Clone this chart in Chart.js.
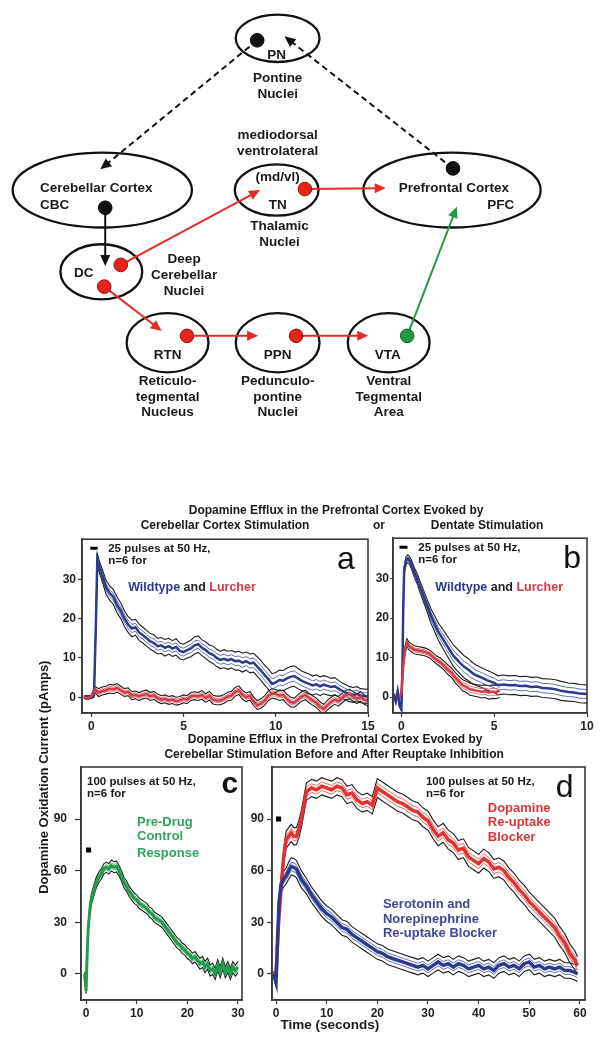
<!DOCTYPE html>
<html><head><meta charset="utf-8">
<script src="https://cdn.jsdelivr.net/npm/chart.js@4.4.1/dist/chart.umd.min.js"></script>
<style>
html,body{margin:0;padding:0;background:#fff;}
#wrap{position:relative;width:603px;height:1050px;overflow:hidden;background:#fff;}
canvas{position:absolute;}
</style></head><body>
<div id="wrap">
<canvas id="bg" width="603" height="1050" style="left:0;top:0;width:603px;height:1050px"></canvas>
<canvas id="pa" width="340" height="210" style="left:40px;top:530px;width:340px;height:210px"></canvas>
<canvas id="pb" width="233" height="210" style="left:370px;top:530px;width:233px;height:210px"></canvas>
<canvas id="pc" width="260" height="300" style="left:0px;top:740px;width:260px;height:300px"></canvas>
<canvas id="pd" width="353" height="300" style="left:250px;top:740px;width:353px;height:300px"></canvas>
</div>
<script>
// ---------------- DATA ----------------
// Panel a: Cerebellar cortex stimulation (time s, current pA)
const tA_wt = [-0.4,-0.2,0,0.15,0.25,0.33,0.45,0.6,0.8,1.0,1.2,1.4,1.6,1.8,2.0,2.2,2.4,2.6,2.8,3.0,3.2,3.4,3.6,3.8,4.0,4.2,4.4,4.6,4.8,5.0,5.2,5.4,5.6,5.8,6.0,6.2,6.4,6.6,6.8,7.0,7.2,7.4,7.6,7.8,8.0,8.2,8.4,8.6,8.8,9.0,9.2,9.4,9.6,9.8,10.0,10.2,10.4,10.6,10.8,11.0,11.2,11.4,11.6,11.8,12.0,12.2,12.4,12.6,12.8,13.0,13.2,13.4,13.6,13.8,14.0,14.2,14.4,14.6,14.8,15.0];
const vA_wt = [0,0.2,0,0.5,18,35,33,31,28,26.5,25.5,23.5,22,20,18.5,17.5,17.8,16.5,15.8,15,14.2,13.8,13,13.2,12.6,13,12.4,12.8,11.8,11.5,12,12.4,13.2,13.5,12.6,12,11.2,10.8,10,9.5,9.8,9.4,9.7,9.2,9.3,8.8,9.2,8.6,8.8,7.8,6.8,5.6,4.6,3.4,3.8,4.4,4.2,4.8,5.2,5.4,4.8,4.2,3.8,3.4,3,3.3,2.8,3.2,2.9,2.6,2.8,2.2,1.6,1.2,0.8,0.6,0.9,0.4,0.3,0.2];
const sA_wt = [0.3,0.3,0.3,0.5,1,1.5,1.5,1.6,1.8,1.8,1.9,2,2,2,2,2.1,2,2.1,2,2,2,2.1,2,2,2.1,2,2,2.1,2,2,2,2.1,2.2,2.1,2,2.1,2.1,2.2,2.2,2.2,2.3,2.3,2.2,2.3,2.4,2.4,2.3,2.4,2.4,2.5,2.5,2.5,2.6,2.6,2.5,2.5,2.6,2.6,2.6,2.6,2.6,2.5,2.5,2.5,2.4,2.4,2.4,2.3,2.3,2.2,2.2,2.1,2,2,1.9,1.9,1.8,1.8,1.8,1.8];
const tA_lc = [-0.4,-0.2,0,0.2,0.4,0.6,0.8,1.0,1.2,1.4,1.6,1.8,2.0,2.2,2.4,2.6,2.8,3.0,3.2,3.4,3.6,3.8,4.0,4.2,4.4,4.6,4.8,5.0,5.2,5.4,5.6,5.8,6.0,6.2,6.4,6.6,6.8,7.0,7.2,7.4,7.6,7.8,8.0,8.2,8.4,8.6,8.8,9.0,9.2,9.4,9.6,9.8,10.0,10.2,10.4,10.6,10.8,11.0,11.2,11.4,11.6,11.8,12.0,12.2,12.4,12.6,12.8,13.0,13.2,13.4,13.6,13.8,14.0,14.2,14.4,14.6,14.8,15.0];
const vA_lc = [0,-0.3,0.2,2,1.2,1.6,1.8,2.2,2.0,2.4,1.8,1.2,1.4,0.4,0.6,0.2,0.6,0.8,0.2,0.5,-0.2,-0.6,-0.4,-0.8,-0.6,-1.0,-0.8,-0.4,-0.6,0.2,0.4,0.2,0.6,-0.2,0.4,-0.6,-0.8,-0.8,-0.4,0.2,0.4,1.4,1.8,0.6,0,0.4,-1.0,-2.0,-1.6,-0.8,0.4,1.0,0.8,0.4,0.6,-0.4,-1.2,-1.4,-0.6,0.2,0.6,-0.2,-0.8,-1.4,-2.4,-3.0,-2.0,-1.2,-0.6,-1.0,-0.2,0.6,0.8,0.2,-0.4,0.2,-0.6,-1.0];
const sA_lc = [0.3,0.3,0.4,0.8,1,1,1,1.1,1.1,1.1,1,1,1,1,1,1,1,1,1,1,1,1,1,1,1,1,1,1,1,1,1,1,1.1,1.1,1.1,1.1,1.1,1.1,1.1,1.1,1.1,1.1,1.1,1.1,1.1,1.1,1.1,1.1,1.2,1.2,1.2,1.2,1.2,1.2,1.2,1.2,1.2,1.2,1.2,1.2,1.2,1.2,1.2,1.2,1.2,1.2,1.2,1.2,1.2,1.2,1.2,1.2,1.2,1.2,1.2,1.2,1.2,1.2];
const stimA_t = [-0.05,0.35], stimA_v = [37.9,37.9];

// Panel b: Dentate stimulation
const tB_wt = [-0.4,-0.3,-0.2,-0.1,0,0.05,0.1,0.15,0.25,0.35,0.45,0.55,0.7,0.85,1.0,1.2,1.4,1.6,1.8,2.0,2.2,2.4,2.6,2.8,3.0,3.2,3.4,3.6,3.8,4.0,4.3,4.6,5.0,5.2,5.5,5.8,6.1,6.4,6.7,7.0,7.3,7.6,8.0,8.3,8.6,9.0,9.3,9.6,10.0];
const vB_wt = [0.5,-1,1.5,-2,-3,5,22,32,34.5,35,34.5,33.5,31.5,30,28,25.5,23,20.5,18.5,16.5,15,13.5,12,10.5,9.5,8.5,7.6,7,6.2,5.6,5,4.3,3.6,3.0,3.2,3.0,3.1,2.8,2.9,2.6,2.7,2.3,2.2,2.0,1.6,1.3,1.2,0.9,0.8];
const sB_wt = [0.5,0.5,0.5,0.5,0.5,1,1,1,1,1,1,1.1,1.2,1.3,1.4,1.5,1.6,1.8,2,2.2,2.4,2.5,2.6,2.7,2.8,2.8,2.8,2.8,2.7,2.6,2.5,2.5,2.4,2.4,2.4,2.4,2.4,2.4,2.4,2.4,2.4,2.4,2.4,2.4,2.4,2.3,2.3,2.3,2.3];
const tB_lc = [-0.1,0,0.1,0.2,0.3,0.4,0.5,0.7,0.9,1.1,1.3,1.5,1.7,1.9,2.1,2.3,2.5,2.7,2.9,3.1,3.3,3.5,3.7,3.9,4.1,4.3,4.5,4.7,4.9,5.1,5.3];
const vB_lc = [0,1,8,12,13.8,13,12.6,12,11.8,11.6,11.4,11,10.2,9.4,8.8,8.0,7.0,6.2,5.0,4.0,3.0,2.6,2.0,1.8,1.6,1.4,1.5,1.2,1.4,1.3,1.6];
const sB_lc = [0.3,0.5,0.8,1,1,1,1,1,1,1,1,1,1,1,1.1,1.1,1.2,1.2,1.3,1.3,1.4,1.4,1.5,1.5,1.5,1.6,1.6,1.7,1.7,1.7,1.7];
const stimB_t = [-0.1,0.33], stimB_v = [37.9,37.9];

// Panel c: pre-drug control (100 pulses)
const tC = [-0.3,0,0.2,0.4,0.7,1,1.5,2,2.5,3,3.5,4,4.5,5,5.5,6,6.5,7,7.5,8,8.5,9,9.5,10,10.5,11,11.5,12,12.5,13,13.5,14,14.5,15,15.5,16,16.5,17,17.5,18,18.5,19,19.5,20,20.5,21,21.5,22,22.5,23,23.5,24,24.5,25,25.5,26,26.5,27,27.5,28,28.5,29,29.5,30];
const vC = [0,-10,10,25,36,43,48,53,56,58,61,62,61,63,62,62.5,60,57,53,51,48,46,44,43,41,40,39,38,36,35,33,32,31,30,28,26,24,22,20,18,17,15,14,12,11,9,10,8,6,7,4,6,2,3,0,5,1,6,1,4,0,4,2,4];
const sC = [1,1.5,2,2.5,3,3,3,3,3,3,3,3,3,3.2,3.2,3.2,3,3,3,3,3,3,3,3,3,3,3,3,3,3,3,3,3,3,3,3,3,3,3,3,3,3,3,3,3,3,3,3,3.2,3.2,3.2,3.2,3.2,3.2,3.2,3.2,3.2,3.2,3.2,3.2,3.2,3.2,3.2,3.2];
const stimC_t = [0,1], stimC_v = [72,72];

// Panel d: dopamine re-uptake blocker vs serotonin/norepinephrine re-uptake blocker
const tD_da = [-0.5,0,0.5,1,1.5,2,2.5,3,3.5,4,4.5,5,5.5,6,6.5,7,8,9,10,11,12,13,14,15,16,17,18,19,20,21,22,23,24,25,26,27,28,29,30,31,32,33,34,35,36,37,38,39,40,41,42,43,44,45,46,47,48,49,50,51,52,53,54,55,56,57,58,59,59.5];
const vD_da = [0,0,30,50,68,78,80,82,80,80,84,90,98,106,107,108,107,109,108,107,109,108,104,105,101,99,100,98,108,106,104,102,100,99,97,95,94,91,89,84,80,82,78,76,72,73,68,66,64,67,65,61,62,60,56,53,49,46,42,39,36,33,30,27,22,18,12,8,5];
const sD_da = [1,2,4,5,5,5,5,5,5,5,5,5,5,5,5,5,5,5,5,5,5,5,5,5,5,5,5,5,5.5,5.5,5.5,5.5,5.5,5.5,5.5,5.5,5.5,5.5,5.5,5.5,5.5,5.5,5.5,5.5,5.5,5.5,5.5,5.5,5.5,5.5,5.5,5.5,5.5,5.5,5.5,5.5,5.5,5.5,5.5,5.5,5.5,5.5,5.5,5.5,5.5,5.5,5.5,5.5,5];
const tD_5ht = [-0.5,0,0.3,0.6,1,1.5,2,2.5,3,3.5,4,4.5,5,6,7,8,9,10,11,12,13,14,15,16,17,18,19,20,21,22,23,24,25,26,27,28,29,30,31,32,33,34,35,36,37,38,39,40,41,42,43,44,45,46,47,48,49,50,51,52,53,54,55,56,57,58,59,59.5];
const vD_5ht = [0,-5,20,42,52,55,57,60,62.5,62,61,58,55,51,46,42,38,35,33,30,27,26,23,21,19,17,15,13,12,10,9,8,7,6,5,4,5,3,5,7,5,6,4,6,5,3,4,5,3,4,2,5,6,4,5,3,6,7,4,5,3,4,3,4,2,2,1,0];
const sD_5ht = [1,2,3,4,4.5,4.5,4.5,5,5,5,5,5,5,4.5,4.5,4.5,4.5,4.5,4.5,4.5,4.5,4.5,4.5,4.5,4.5,4.5,4.5,4.5,4.5,4.5,4.5,4.5,4.5,4.5,4.5,4.5,4.5,4.5,4.5,4.5,4.5,4.5,4.5,4.5,4.5,4.5,4.5,4.5,4.5,4.5,4.5,4.5,4.5,4.5,4.5,4.5,4.5,4.5,4.5,4.5,4.5,4.5,4.5,4.5,4.5,4.5,4.5,4.5];
const stimD_t = [0,1], stimD_v = [90,90];

// tick labels
const xTicksA = [0,5,10,15], xTicksB = [0,5,10], yTicksAB = [0,10,20,30];
const xTicksC = [0,10,20,30], xTicksD = [0,10,20,30,40,50,60], yTicksCD = [0,30,60,90];

// ---------------- DIAGRAM (page coordinates) ----------------
const nodeX  = [277, 97, 96, 276, 456, 164, 277, 391];
const nodeY  = [31, 185, 268, 185, 185, 340, 340, 340];
const nodeRX = [43, 92, 42, 43, 91, 42, 43, 42];
const nodeRY = [24, 38, 28, 26, 38, 30, 30, 30];
const dotX = [256, 100, 457, 116, 99, 305, 184, 296, 410];
const dotY = [33, 203, 163, 261, 283, 184, 333, 333, 333];
const dotKind = ['k','k','k','r','r','r','r','r','g'];
// arrows: fromX, fromY, toX, toY, kind, dashed
const arrows = [
  [256,33,95,164,'k',true],
  [457,163,284,29,'k',true],
  [100,203,100,262,'k',false],
  [116,261,259,185,'r',false],
  [305,184,388,183,'r',false],
  [99,283,158,328,'r',false],
  [184,333,257,333,'r',false],
  [296,333,370,333,'r',false],
  [410,333,461,202,'g',false]
];
const diagramText = [
  ['PN',276,48,'center'],['Pontine',277,72,'center'],['Nuclei',277,88,'center'],
  ['mediodorsal',277,129,'center'],['ventrolateral',277,146,'center'],
  ['(md/vl)',277,172,'center'],['TN',277,200,'center'],
  ['Thalamic',279,222,'center'],['Nuclei',279,238,'center'],
  ['Cerebellar Cortex',33,183,'left'],['CBC',33,200,'left'],
  ['Prefrontal Cortex',458,183,'center'],['PFC',520,200,'right'],
  ['DC',78,269,'center'],
  ['Deep',181,255,'center'],['Cerebellar',181,272,'center'],['Nuclei',181,288,'center'],
  ['RTN',164,353,'center'],['PPN',277,353,'center'],['VTA',390,353,'center'],
  ['Reticulo-',164,379,'center'],['tegmental',164,395,'center'],['Nucleus',164,411,'center'],
  ['Pedunculo-',277,379,'center'],['pontine',277,395,'center'],['Nuclei',277,411,'center'],
  ['Ventral',391,379,'center'],['Tegmental',391,395,'center'],['Area',391,411,'center']
];
const titleText = [
  ['Dopamine Efflux in the Prefrontal Cortex Evoked by',337,510,'center'],
  ['Cerebellar Cortex Stimulation',223,526,'center'],
  ['or',381,526,'center'],
  ['Dentate Stimulation',492,526,'center'],
  ['Dopamine Efflux in the Prefrontal Cortex Evoked by',336,743,'center'],
  ['Cerebellar Stimulation Before and After Reuptake Inhibition',335,758,'center']
];

// ---------------- STYLE ----------------
const FF = '"Liberation Sans", Arial, Helvetica, sans-serif';
const NAVY = '#2b3a8f', REDA = '#d43a44', REDD = '#e5302e', GREEN = '#1f9d4c', ENV = '#1c1c1c';
const KCOL = {k:'#111', r:'#e8231c', g:'#1f9a40'};
const KEDGE = {k:'#000', r:'#8a1010', g:'#0c5a20'};

// ---------------- BACKGROUND DIAGRAM CHART ----------------
function arrowHead(ctx, x1, y1, x2, y2, len, wid){
  const a = Math.atan2(y2-y1, x2-x1);
  ctx.beginPath();
  ctx.moveTo(x2, y2);
  ctx.lineTo(x2 - len*Math.cos(a) + wid*Math.sin(a), y2 - len*Math.sin(a) - wid*Math.cos(a));
  ctx.lineTo(x2 - len*Math.cos(a) - wid*Math.sin(a), y2 - len*Math.sin(a) + wid*Math.cos(a));
  ctx.closePath(); ctx.fill();
}
const bgPlugin = {
  id: 'bgdraw',
  beforeDatasetsDraw(chart){
    const ctx = chart.ctx, sx = chart.scales.x, sy = chart.scales.y;
    const X = v => sx.getPixelForValue(v), Y = v => sy.getPixelForValue(v);
    ctx.save();
    ctx.strokeStyle = '#111'; ctx.lineWidth = 2.3;
    nodeX.forEach((cx, i) => {
      ctx.beginPath();
      ctx.ellipse(X(cx), Y(nodeY[i]), Math.abs(X(cx + nodeRX[i]) - X(cx)), Math.abs(Y(nodeY[i] + nodeRY[i]) - Y(nodeY[i])), 0, 0, 2*Math.PI);
      ctx.stroke();
    });
    arrows.forEach(a => {
      const x1 = X(a[0]), y1 = Y(a[1]), x2 = X(a[2]), y2 = Y(a[3]);
      const col = a[4] === 'k' ? '#111' : (a[4] === 'r' ? '#e32a26' : '#1f9a40');
      const ang = Math.atan2(y2-y1, x2-x1);
      ctx.strokeStyle = col; ctx.fillStyle = col; ctx.lineWidth = 2;
      ctx.setLineDash(a[5] ? [6,4] : []);
      ctx.beginPath(); ctx.moveTo(x1, y1); ctx.lineTo(x2 - 8*Math.cos(ang), y2 - 8*Math.sin(ang)); ctx.stroke();
      ctx.setLineDash([]);
      arrowHead(ctx, x1, y1, x2, y2, 11, 5);
    });
    ctx.restore();
  },
  afterDatasetsDraw(chart){
    const ctx = chart.ctx, sx = chart.scales.x, sy = chart.scales.y;
    const X = v => sx.getPixelForValue(v), Y = v => sy.getPixelForValue(v);
    ctx.save();
    ctx.fillStyle = '#1a1a1a'; ctx.textBaseline = 'middle';
    ctx.font = 'bold 13.5px ' + FF;
    diagramText.forEach(t => { ctx.textAlign = t[3]; ctx.fillText(t[0], X(t[1]), Y(t[2])); });
    ctx.font = 'bold 12px ' + FF;
    titleText.forEach(t => { ctx.textAlign = t[3]; ctx.fillText(t[0], X(t[1]), Y(t[2])); });
    ctx.font = 'bold 13.5px ' + FF; ctx.textAlign = 'left';
    ctx.fillText('Time (seconds)', X(280), Y(1033));
    ctx.font = 'bold 13px ' + FF;
    ctx.translate(X(38), Y(781)); ctx.rotate(-Math.PI/2);
    ctx.textAlign = 'center';
    ctx.fillText('Dopamine Oxidation Current (pAmps)', 0, 0);
    ctx.restore();
  }
};
new Chart(document.getElementById('bg'), {
  type: 'scatter',
  data: { datasets: [{
    data: dotX.map((x, i) => ({x: x, y: dotY[i]})),
    pointRadius: 6.8, pointHoverRadius: 6.8,
    pointBackgroundColor: dotKind.map(k => KCOL[k]),
    pointBorderColor: dotKind.map(k => KEDGE[k]),
    pointBorderWidth: 1
  }]},
  options: {
    responsive: false, animation: false, events: [],
    layout: { padding: 0 },
    scales: {
      x: { type: 'linear', min: 0, max: 603, display: false },
      y: { type: 'linear', min: 0, max: 1050, reverse: true, display: false }
    },
    plugins: { legend: {display: false}, tooltip: {enabled: false} }
  },
  plugins: [bgPlugin]
});

// ---------------- PANELS ----------------
function band(t, v, s, col, inner, w){
  const pts = k => t.map((x, i) => ({x: x, y: v[i] + k*s[i]}));
  return [
    {data: pts(1), borderColor: ENV, borderWidth: 1.1, order: 5},
    {data: pts(-1), borderColor: ENV, borderWidth: 1.1, order: 5},
    {data: pts(0.5), borderColor: inner, borderWidth: 1, order: 4},
    {data: pts(-0.5), borderColor: inner, borderWidth: 1, order: 4},
    {data: pts(0), borderColor: col, borderWidth: w, order: 3}
  ];
}
function stim(t, v, w){
  return {data: t.map((x, i) => ({x: x, y: v[i]})), borderColor: '#000', borderWidth: w, borderCapStyle: 'butt', order: 1};
}
function panelPlugin(items){
  return {
    id: 'panel',
    afterDatasetsDraw(chart){
      const ctx = chart.ctx, sx = chart.scales.x, sy = chart.scales.y;
      ctx.save();
      items.forEach(it => {
        ctx.font = it.font; ctx.textBaseline = it.base || 'middle';
        let x = sx.getPixelForValue(it.x); const y = sy.getPixelForValue(it.y);
        if (it.align === 'center') {
          const w = it.parts.reduce((a, p) => a + ctx.measureText(p[0]).width, 0);
          x -= w/2;
        }
        ctx.textAlign = 'left';
        it.parts.forEach(p => { ctx.fillStyle = p[1]; ctx.fillText(p[0], x, y); x += ctx.measureText(p[0]).width; });
      });
      ctx.restore();
    },
    afterDraw(chart){
      const ctx = chart.ctx, a = chart.chartArea;
      ctx.save(); ctx.strokeStyle = '#3a3a3a'; ctx.lineWidth = 1.6;
      ctx.strokeRect(a.left, a.top, a.right - a.left, a.bottom - a.top);
      ctx.restore();
    }
  };
}
function makePanel(id, o){
  const tickFont = {family: FF, size: 12, weight: 'bold'};
  new Chart(document.getElementById(id), {
    type: 'line',
    data: { datasets: o.datasets },
    options: {
      responsive: false, animation: false, events: [],
      layout: { padding: {top: o.padTop, right: o.padRight, left: 0, bottom: 0} },
      datasets: { line: { pointRadius: 0, tension: 0, fill: false } },
      scales: {
        x: {
          type: 'linear', min: o.xmin, max: o.xmax,
          afterBuildTicks: s => { s.ticks = o.xticks.map(v => ({value: v})); },
          afterFit: s => { s.height = o.xh; },
          grid: { drawOnChartArea: false, tickLength: 4, color: '#3a3a3a', tickWidth: 1.2 },
          border: { color: '#3a3a3a', width: 1.6 },
          ticks: { font: tickFont, color: '#222', padding: 2, maxRotation: 0, autoSkip: false }
        },
        y: {
          type: 'linear', min: o.ymin, max: o.ymax,
          afterBuildTicks: s => { s.ticks = o.yticks.map(v => ({value: v})); },
          afterFit: s => { s.width = o.yw; },
          grid: { drawOnChartArea: false, tickLength: o.ytl, color: '#3a3a3a', tickWidth: 1.2 },
          border: { color: '#3a3a3a', width: 1.6 },
          ticks: { font: tickFont, color: '#222', padding: o.ypad, autoSkip: false }
        }
      },
      plugins: { legend: {display: false}, tooltip: {enabled: false} }
    },
    plugins: [panelPlugin(o.items)]
  });
}
const f11 = 'bold 11.5px ' + FF, f12 = 'bold 12.5px ' + FF, f13 = 'bold 13px ' + FF;
const wl = [['Wildtype ', NAVY], ['and ', '#222'], ['Lurcher', REDA]];

makePanel('pa', {
  xmin: -0.5, xmax: 15, ymin: -4, ymax: 40.2, xticks: xTicksA, yticks: yTicksAB,
  padTop: 5, padRight: 12, xh: 27, yw: 42, ytl: 4, ypad: 2,
  datasets: [].concat(
    band(tA_lc, vA_lc, sA_lc, REDA, 'rgba(220,90,100,0.85)', 2.5),
    band(tA_wt, vA_wt, sA_wt, NAVY, 'rgba(70,85,160,0.85)', 2.5),
    [stim(stimA_t, stimA_v, 3)]
  ),
  items: [
    {x: 0.92, y: 37.7, parts: [['25 pulses at 50 Hz,', '#1a1a1a']], font: f11},
    {x: 0.92, y: 34.7, parts: [['n=6 for', '#1a1a1a']], font: f11},
    {x: 13.8, y: 32.7, parts: [['a', '#111']], font: '32px ' + FF, align: 'center', base: 'alphabetic'},
    {x: 2.0, y: 27.8, parts: wl, font: f12}
  ]
});
makePanel('pb', {
  xmin: -0.45, xmax: 10, ymin: -4, ymax: 40.2, xticks: xTicksB, yticks: yTicksAB,
  padTop: 5, padRight: 16, xh: 27, yw: 23, ytl: 3, ypad: 1,
  datasets: [].concat(
    band(tB_lc, vB_lc, sB_lc, REDA, 'rgba(220,90,100,0.85)', 2.5),
    band(tB_wt, vB_wt, sB_wt, NAVY, 'rgba(70,85,160,0.85)', 2.5),
    [stim(stimB_t, stimB_v, 3)]
  ),
  items: [
    {x: 0.91, y: 37.7, parts: [['25 pulses at 50 Hz,', '#1a1a1a']], font: f11},
    {x: 0.91, y: 34.7, parts: [['n=6 for', '#1a1a1a']], font: f11},
    {x: 9.2, y: 32.7, parts: [['b', '#111']], font: '32px ' + FF, align: 'center', base: 'alphabetic'},
    {x: 1.83, y: 27.8, parts: wl, font: f12}
  ]
});
makePanel('pc', {
  xmin: -1, xmax: 30.8, ymin: -15.1, ymax: 120.2, xticks: xTicksC, yticks: yTicksCD,
  padTop: 27, padRight: 18, xh: 40, yw: 81, ytl: 6, ypad: 8,
  datasets: [].concat(
    band(tC, vC, sC, GREEN, 'rgba(40,170,90,0.85)', 3),
    [stim(stimC_t, stimC_v, 5)]
  ),
  items: [
    {x: 0.2, y: 111.5, parts: [['100 pulses at 50 Hz,', '#1a1a1a']], font: f11},
    {x: 0.2, y: 104.5, parts: [['n=6 for', '#1a1a1a']], font: f11},
    {x: 28.4, y: 105, parts: [['c', '#111']], font: 'bold 30px ' + FF, align: 'center', base: 'alphabetic'},
    {x: 10.06, y: 88.3, parts: [['Pre-Drug', '#2ea55a']], font: f13},
    {x: 10.06, y: 79.6, parts: [['Control', '#2ea55a']], font: f13},
    {x: 10.06, y: 70.3, parts: [['Response', '#2ea55a']], font: f13}
  ]
});
makePanel('pd', {
  xmin: -0.8, xmax: 61, ymin: -15.1, ymax: 120.2, xticks: xTicksD, yticks: yTicksCD,
  padTop: 27, padRight: 18, xh: 40, yw: 22, ytl: 5, ypad: 3,
  datasets: [].concat(
    band(tD_5ht, vD_5ht, sD_5ht, NAVY, 'rgba(70,85,170,0.85)', 3.5),
    band(tD_da, vD_da, sD_da, REDD, 'rgba(235,80,80,0.85)', 3.5),
    [stim(stimD_t, stimD_v, 5)]
  ),
  items: [
    {x: 29.6, y: 111.5, parts: [['100 pulses at 50 Hz,', '#1a1a1a']], font: f11},
    {x: 29.6, y: 104.5, parts: [['n=6 for', '#1a1a1a']], font: f11},
    {x: 57.0, y: 102.8, parts: [['d', '#111']], font: '32px ' + FF, align: 'center', base: 'alphabetic'},
    {x: 41.8, y: 96.3, parts: [['Dopamine', '#d9363a']], font: f13},
    {x: 41.8, y: 88.2, parts: [['Re-uptake', '#d9363a']], font: f13},
    {x: 41.8, y: 79.5, parts: [['Blocker', '#d9363a']], font: f13},
    {x: 21.1, y: 40.6, parts: [['Serotonin and', '#3c4896']], font: f13},
    {x: 21.1, y: 31.9, parts: [['Norepinephrine', '#3c4896']], font: f13},
    {x: 21.1, y: 23.8, parts: [['Re-uptake Blocker', '#3c4896']], font: f13}
  ]
});
</script>
</body></html>
